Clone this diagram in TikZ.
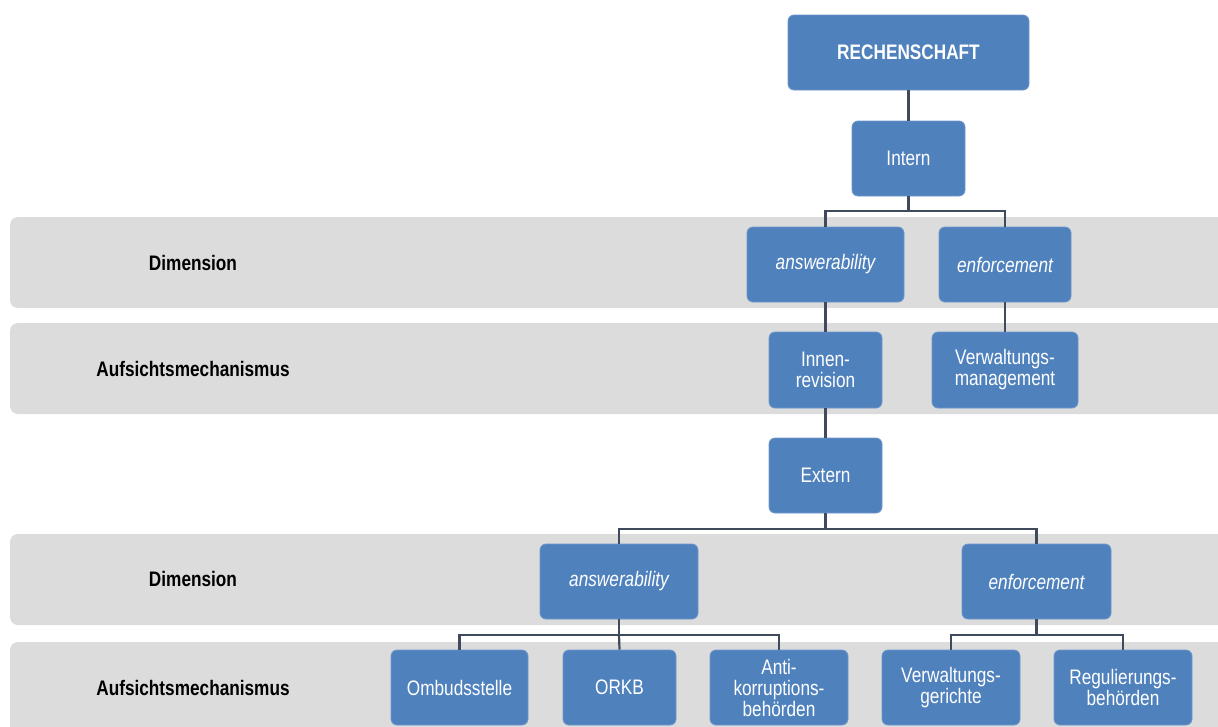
\documentclass[tikz,border=0pt]{standalone}
\usepackage{fontspec}
\setmainfont{Liberation Sans}[FakeStretch=0.82]
\definecolor{boxblue}{HTML}{4F81BD}
\definecolor{boxedge}{HTML}{6F97CC}
\definecolor{bandgray}{HTML}{DCDCDC}
\definecolor{linecol}{HTML}{3F4B5C}
\tikzset{
  orgbox/.style={rectangle, rounded corners=6pt, fill=boxblue, draw=boxedge, line width=0.8pt,
    text=white, align=center, inner sep=2pt, font=\fontsize{21}{21}\selectfont},
  band/.style={fill=bandgray, rounded corners=8pt},
  bandlabel/.style={font=\fontsize{21}{21}\selectfont\bfseries, text=black},
  conn/.style={draw=linecol, line width=2.2pt}
}
\begin{document}
\begin{tikzpicture}[x=1pt,y=1pt]
\useasboundingbox (0,0) rectangle (1218,-726);
\clip (0,0) rectangle (1218,-726);
% bands
\fill[band] (10,-217) rectangle (1240,-308);
\fill[band] (10,-323) rectangle (1240,-414);
\fill[band] (10,-534) rectangle (1240,-625);
\fill[band] (10,-642) rectangle (1240,-760);
\node[bandlabel] (l1) at (193,-263) {Dimension};
\node[bandlabel] (l2) at (193,-369) {Aufsichtsmechanismus};
\node[bandlabel] (l3) at (193,-579) {Dimension};
\node[bandlabel] (l4) at (193,-688) {Aufsichtsmechanismus};
% connectors
\coordinate (j1) at (908.5,-211);
\coordinate (j2) at (825.5,-529);
\coordinate (j3) at (619,-635);
\coordinate (j4) at (1036.5,-635);
% boxes
\node[orgbox, minimum width=241pt, minimum height=75pt, font=\fontsize{21}{21}\selectfont\bfseries] (rech) at (908.5,-52.5) {RECHENSCHAFT};
\node[orgbox, minimum width=113pt, minimum height=75pt] (intern) at (908.5,-158.5) {Intern};
\node[orgbox, minimum width=157pt, minimum height=75pt, font=\fontsize{21}{21}\selectfont\itshape] (ans1) at (825.5,-264.5) {answerability};
\node[orgbox, minimum width=132pt, minimum height=75pt, font=\fontsize{21}{21}\selectfont\itshape] (enf1) at (1005,-264.5) {enforcement};
\node[orgbox, minimum width=113pt, minimum height=76pt] (innen) at (825.5,-370) {Innen-\\revision};
\node[orgbox, minimum width=146pt, minimum height=76pt] (vmgmt) at (1005,-370) {Verwaltungs-\\management};
\node[orgbox, minimum width=113pt, minimum height=75pt] (extern) at (825.5,-475.5) {Extern};
\node[orgbox, minimum width=158pt, minimum height=75pt, font=\fontsize{21}{21}\selectfont\itshape] (ans2) at (619,-581.5) {answerability};
\node[orgbox, minimum width=149pt, minimum height=75pt, font=\fontsize{21}{21}\selectfont\itshape] (enf2) at (1036.5,-581.5) {enforcement};
\node[orgbox, minimum width=137pt, minimum height=75pt] (ombud) at (459.5,-687.5) {Ombudsstelle};
\node[orgbox, minimum width=113pt, minimum height=75pt] (orkb) at (619.5,-687.5) {ORKB};
\node[orgbox, minimum width=138pt, minimum height=75pt] (anti) at (779,-687.5) {Anti-\\korruptions-\\behörden};
\node[orgbox, minimum width=138pt, minimum height=75pt] (vger) at (951,-687.5) {Verwaltungs-\\gerichte};
\node[orgbox, minimum width=138pt, minimum height=75pt] (regul) at (1123,-687.5) {Regulierungs-\\behörden};
% connector lines
\draw[conn] (rech.south) -- (intern.north);
\draw[conn] (intern.south) -- (j1);
\draw[conn] (ans1.north) |- (j1) -| (enf1.north);
\draw[conn] (ans1.south) -- (innen.north);
\draw[conn] (enf1.south) -- (vmgmt.north);
\draw[conn] (innen.south) -- (extern.north);
\draw[conn] (extern.south) -- (j2);
\draw[conn] (ans2.north) |- (j2) -| (enf2.north);
\draw[conn] (ans2.south) -- (j3);
\draw[conn] (ombud.north) |- (j3) -| (anti.north);
\draw[conn] (j3) -- (orkb.north);
\draw[conn] (enf2.south) -- (j4);
\draw[conn] (vger.north) |- (j4) -| (regul.north);
\end{tikzpicture}
\end{document}
